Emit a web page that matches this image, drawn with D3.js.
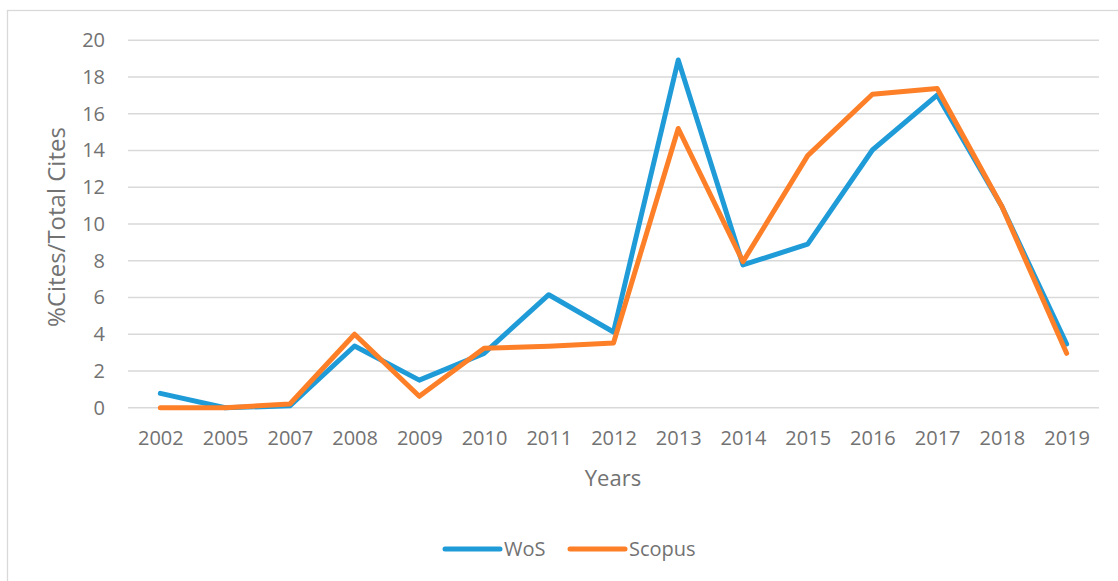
<!DOCTYPE html>
<html>
<head>
<meta charset="utf-8">
<script src="https://cdnjs.cloudflare.com/ajax/libs/d3/7.8.5/d3.min.js"></script>
<style>
  body { margin: 0; background: #fff; }
  svg { display: block; font-family: "Open Sans", "Noto Sans", sans-serif; }
</style>
</head>
<body>
<svg width="1118" height="581"></svg>
<script>
// chart data
var years = ["2002","2005","2007","2008","2009","2010","2011","2012","2013","2014","2015","2016","2017","2018","2019"];
var wos    = [0.78, 0.0, 0.1, 3.36, 1.5, 2.96, 6.15, 4.12, 18.93, 7.77, 8.9, 14.03, 17.02, 10.95, 3.47];
var scopus = [0.0, 0.0, 0.2, 4.0, 0.62, 3.23, 3.35, 3.52, 15.2, 7.95, 13.72, 17.06, 17.38, 10.95, 2.96];
var yTicks = [0, 2, 4, 6, 8, 10, 12, 14, 16, 18, 20];
var seriesNames = ["WoS", "Scopus"];
var seriesColors = ["#1f9bd8", "#fd7f27"];

var svg = d3.select("svg");
var textColor = "#727272";

// outer chart border (right and bottom edges fall outside the picture)
svg.append("rect")
    .attr("x", 7.5).attr("y", 10.5)
    .attr("width", 1130).attr("height", 600)
    .attr("fill", "none")
    .attr("stroke", "#d9d9d9")
    .attr("stroke-width", 1.3);

var plotLeft = 128, plotRight = 1099, plotTop = 40.3, plotBottom = 407.7;

var x = d3.scalePoint()
    .domain(years)
    .range([plotLeft, plotRight])
    .padding(0.5);

var y = d3.scaleLinear()
    .domain([0, 20])
    .range([plotBottom, plotTop]);

// gridlines
svg.append("g")
    .selectAll("line")
    .data(yTicks)
    .join("line")
      .attr("x1", plotLeft).attr("x2", plotRight)
      .attr("y1", function(d) { return y(d); })
      .attr("y2", function(d) { return y(d); })
      .attr("stroke", "#d9d9d9")
      .attr("stroke-width", 1.4);

// y axis labels
var yAxis = svg.append("g")
    .attr("transform", "translate(" + plotLeft + ",0)")
    .call(d3.axisLeft(y).tickValues(yTicks).tickSize(0).tickPadding(23));
yAxis.select(".domain").remove();
yAxis.selectAll("text")
    .attr("fill", textColor)
    .style("font-size", "20px")
    .style("font-family", "'Open Sans', sans-serif");

// x axis labels
var xAxis = svg.append("g")
    .attr("transform", "translate(0," + plotBottom + ")")
    .call(d3.axisBottom(x).tickSize(0).tickPadding(23));
xAxis.select(".domain").remove();
xAxis.selectAll("text")
    .attr("fill", textColor)
    .style("font-size", "20px")
    .style("font-family", "'Open Sans', sans-serif");

// axis titles
svg.append("text")
    .attr("x", 613).attr("y", 486)
    .attr("text-anchor", "middle")
    .attr("fill", textColor)
    .style("font-size", "22px")
    .text("Years");

svg.append("text")
    .attr("transform", "translate(65,227) rotate(-90)")
    .attr("text-anchor", "middle")
    .attr("fill", textColor)
    .style("font-size", "24px")
    .text("%Cites/Total Cites");

// lines
var line = d3.line()
    .x(function(d, i) { return x(years[i]); })
    .y(function(d) { return y(d); });

[wos, scopus].forEach(function(values, k) {
    svg.append("path")
        .datum(values)
        .attr("fill", "none")
        .attr("stroke", seriesColors[k])
        .attr("stroke-width", 5)
        .attr("stroke-linejoin", "round")
        .attr("stroke-linecap", "round")
        .attr("d", line);
});

// legend
var legendX = [445, 570];
var legend = svg.append("g");
seriesNames.forEach(function(name, k) {
    legend.append("line")
        .attr("x1", legendX[k]).attr("x2", legendX[k] + 55)
        .attr("y1", 549).attr("y2", 549)
        .attr("stroke", seriesColors[k])
        .attr("stroke-width", 5)
        .attr("stroke-linecap", "round");
    legend.append("text")
        .attr("x", legendX[k] + 59).attr("y", 556)
        .attr("fill", textColor)
        .style("font-size", "20px")
        .text(name);
});
</script>
</body>
</html>
